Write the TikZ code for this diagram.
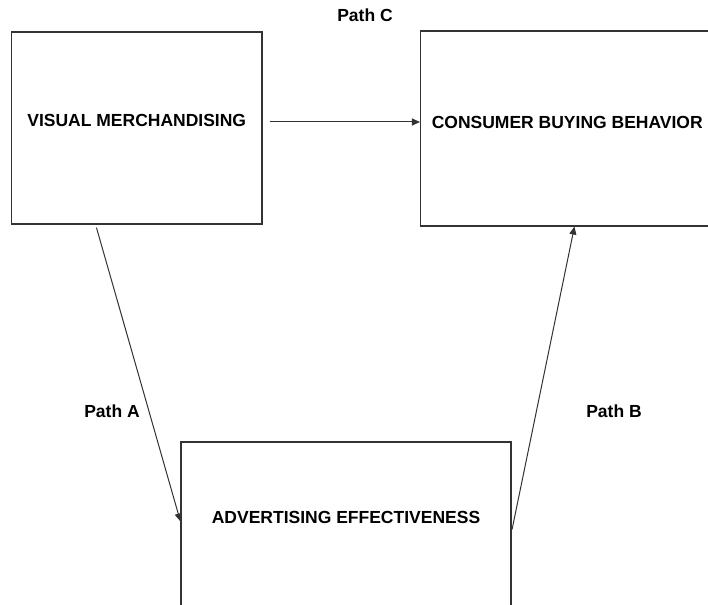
\documentclass[tikz,border=0pt]{standalone}
\usepackage{fontspec}
\setmainfont{Liberation Sans}
\usetikzlibrary{arrows.meta,calc}
\begin{document}
\begin{tikzpicture}[x=1pt,y=1pt,
  box/.style={draw=black!80,line width=1.1pt,inner sep=0pt,fill=white},
  lbl/.style={font=\bfseries\fontsize{17.5}{19}\selectfont,inner sep=0pt},
  conn/.style={draw=black!80,line width=1pt,-{Triangle[length=8pt,width=7pt]}}]
\useasboundingbox (0,0) rectangle (708,-604);
\clip (0,0) rectangle (708,-604);
\fill[white] (0,0) rectangle (708,-604);
\node[box,minimum width=250.5,minimum height=192,
  label={[lbl,yshift=7.5]center:VISUAL MERCHANDISING}] (vm) at (136.75,-128) {};
\node[box,minimum width=293.5,minimum height=195,
  label={[lbl,yshift=6.5]center:CONSUMER BUYING BEHAVIOR}] (cbb) at (567.25,-128.5) {};
\node[box,minimum width=330,minimum height=180,
  label={[lbl,yshift=15]center:ADVERTISING EFFECTIVENESS}] (ae) at (346,-532) {};
\coordinate (cs) at ($(vm.east)+(7,6)$);
\coordinate (as) at ($(vm.south west)+(85.5,-3)$);
\coordinate (ae1) at ($(ae.north west)+(0,-80)$);
\coordinate (be) at ($(cbb.south west)+(154.5,0)$);
\coordinate (ae2) at ($(ae.north east)+(0.5,-88)$);
\draw[conn] (cs) -- (cs -| cbb.west);
\draw[conn] (as) -- (ae1);
\draw[conn] (ae2) -- (be);
\node[lbl] (pc) at (365,-15) {Path C};
\node[lbl] (pa) at (112,-411) {Path A};
\node[lbl] (pb) at (614,-411) {Path B};
\end{tikzpicture}
\end{document}
